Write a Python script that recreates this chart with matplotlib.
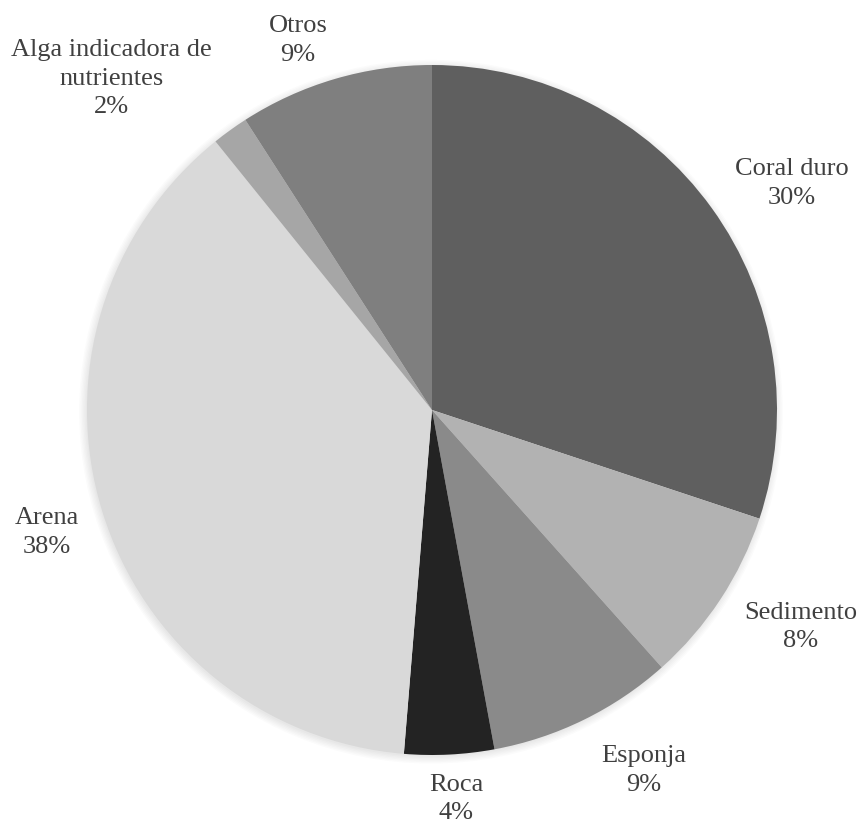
import numpy as np
import matplotlib
matplotlib.use("Agg")
import matplotlib.pyplot as plt
from matplotlib.patches import Circle

# data (percent of cover)
categorias = ["Coral duro", "Sedimento", "Esponja", "Roca", "Arena",
              "Alga indicadora de\nnutrientes", "Otros"]
valores = [30.1, 8.3, 8.7, 4.2, 37.9, 1.7, 9.1]
colores = ["#5f5f5f", "#b2b2b2", "#8a8a8a", "#232323", "#d9d9d9", "#a6a6a6", "#7f7f7f"]
# label placement per slice: distance from centre (radii) and angle shift (deg)
dist_etiqueta = [1.237, 1.234, 1.203, 1.12, 1.168, 1.343, 1.149]
giro_etiqueta = [-3.2, 3.2, 4.6, 0.7, 0.1, 7.9, 3.4]

plt.rcParams['font.family'] = ['Liberation Serif', 'DejaVu Serif']

W, H = 861, 827
fig = plt.figure(figsize=(W / 100, H / 100), dpi=100)
r_px = 345
cx, cy = 432, H - 410
lim = 1.25
ax = fig.add_axes([(cx - lim * r_px) / W, (cy - lim * r_px) / H,
                   2 * lim * r_px / W, 2 * lim * r_px / H])

# soft shadow around the pie
for k in range(6):
    ax.add_patch(Circle((-0.003, -0.005), 1.0 + 0.004 * k, color="black",
                        alpha=0.015, lw=0, zorder=0))

wedges, _ = ax.pie(valores, colors=colores, startangle=90, counterclock=False,
                   radius=1.0, wedgeprops=dict(linewidth=0, zorder=1))

total = sum(valores)
for w, cat, v, d, g in zip(wedges, categorias, valores, dist_etiqueta, giro_etiqueta):
    ang = np.deg2rad((w.theta1 + w.theta2) / 2 + g)
    x, y = d * np.cos(ang), d * np.sin(ang) - 0.01
    ax.text(x, y, "%s\n%d%%" % (cat, round(100 * v / total)), ha="center", va="center",
            fontsize=19, color="#404040", linespacing=1.38)

ax.set_xlim(-lim, lim)
ax.set_ylim(-lim, lim)
ax.set_aspect("equal")
ax.axis("off")

fig.savefig("out.png", dpi=100)
